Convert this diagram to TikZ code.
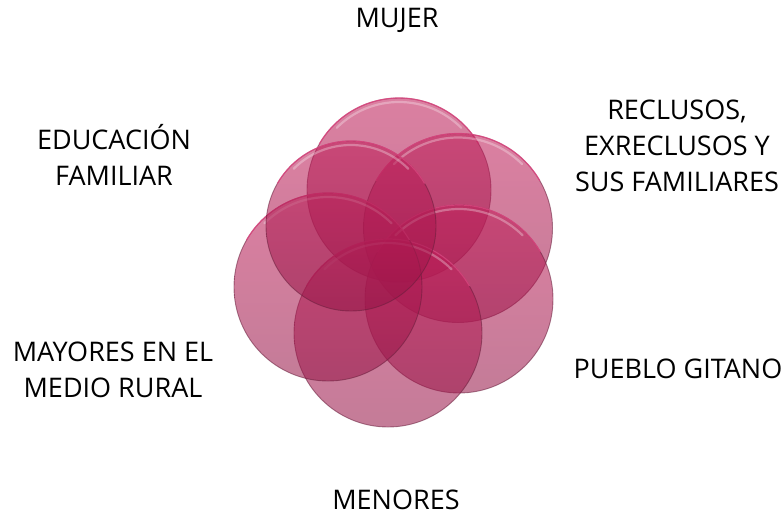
\documentclass[tikz,border=0pt]{standalone}
\usepackage{fontspec}
\setmainfont{Open Sans}
\definecolor{fillTop}{RGB}{192,28,88}
\definecolor{fillBot}{RGB}{150,22,72}
\definecolor{rimDark}{RGB}{105,30,60}
\definecolor{rimTop}{RGB}{225,70,130}
\begin{document}
\begin{tikzpicture}[x=1pt,y=-1pt,
  lbl/.style={font=\fontsize{27}{36}\selectfont, align=center, text=black, inner sep=0pt},
  disc/.style={top color=fillTop, bottom color=fillBot, opacity=0.56},
  rim/.style={draw=rimDark, line width=0.9pt, draw opacity=0.55},
  toprim/.style={draw=rimTop, line width=1.2pt, draw opacity=0.8},
  gloss/.style={draw=white, line width=2.2pt, draw opacity=0.3, line cap=round}]
\useasboundingbox (0,0) rectangle (784,517);
\fill[white] (0,0) rectangle (784,517);

% circle centres and radii (top, upper right, lower right, bottom, lower left, upper left)
\foreach \cx/\cy/\r/\nm in {399/190/92/cA, 458/228/94.5/cB, 459/299/94/cC, 388/333/94/cD, 328/287/94/cE, 351/226/85/cF}{
  \coordinate (\nm) at (\cx,\cy);
  \shade[disc] (\nm) circle [radius=\r];
  \draw[rim] (\nm) circle [radius=\r];
  \draw[toprim] ([shift={(\cx,\cy)}]{-150}:\r) arc[start angle=-150, end angle=-30, radius=\r];
  \draw[gloss] ([shift={(\cx,\cy)}]{-135}:{\r-4}) arc[start angle=-135, end angle=-45, radius={\r-4}];
}

\node[lbl] (mujer) at (397,20) {MUJER};
\node[lbl] (reclusos) at (677,146) {RECLUSOS,\\EXRECLUSOS Y\\SUS FAMILIARES};
\node[lbl] (gitano) at (678,368.5) {PUEBLO GITANO};
\node[lbl] (menores) at (396,500) {MENORES};
\node[lbl] (mayores) at (113,370) {MAYORES EN EL\\MEDIO RURAL};
\node[lbl] (educacion) at (114,155) {EDUCACIÓN\\FAMILIAR};
\end{tikzpicture}
\end{document}
